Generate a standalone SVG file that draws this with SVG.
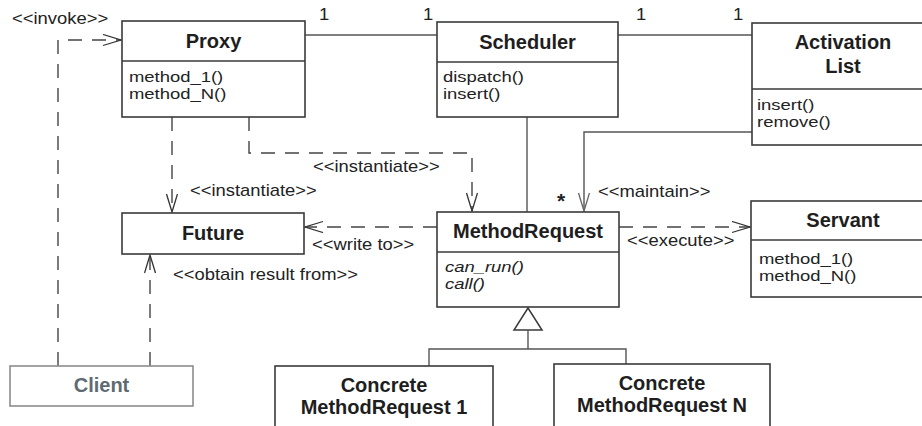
<svg xmlns="http://www.w3.org/2000/svg" width="922" height="426" viewBox="0 0 922 426">
  <defs>
    <marker id="open" markerUnits="userSpaceOnUse" markerWidth="22" markerHeight="14" refX="19" refY="6" orient="auto">
      <path d="M1,0.5 L19,6 L1,11.5" fill="none" stroke="#333" stroke-width="1.3" stroke-dasharray="none"/>
    </marker>
    <marker id="openGray" markerUnits="userSpaceOnUse" markerWidth="22" markerHeight="14" refX="19" refY="6" orient="auto">
      <path d="M1,0.5 L19,6 L1,11.5" fill="none" stroke="#666" stroke-width="1.3" stroke-dasharray="none"/>
    </marker>
  </defs>
  <style>
    .box { fill: #fff; stroke: #3a3a3a; stroke-width: 1.6; }
    .div { stroke: #3a3a3a; stroke-width: 1.6; }
    .title { font-family: "Liberation Sans", Arial, sans-serif; font-weight: bold; font-size: 20px; fill: #1e1e1e; text-anchor: middle; }
    .lbl { font-family: "Liberation Sans", Arial, sans-serif; font-size: 16px; fill: #222; }
    .op { font-family: "Liberation Sans", Arial, sans-serif; font-size: 15px; fill: #222; }
    .it { font-style: italic; }
    .solid { fill: none; stroke: #555; stroke-width: 1.4; }
    .dash { fill: none; stroke: #444; stroke-width: 1.4; stroke-dasharray: 14 10; }
  </style>
  <rect width="922" height="426" fill="#fff"/>

  <!-- connectors -->
  <g id="connectors">
    <!-- associations -->
    <line class="solid" x1="305" y1="35" x2="437" y2="35"/>
    <line class="solid" x1="618" y1="35" x2="752" y2="35"/>
    <line class="solid" x1="527" y1="117" x2="527" y2="212"/>
    <polyline class="solid" points="752,132 584,132 584,211" stroke="#888" marker-end="url(#openGray)"/>
    <!-- dependencies -->
    <polyline class="dash" points="58,366 58,40 121,40" marker-end="url(#open)"/>
    <polyline class="dash" points="172,117 172,212" marker-end="url(#open)"/>
    <polyline class="dash" points="249,117 249,153 472,153 472,211" marker-end="url(#open)"/>
    <polyline class="dash" points="437,227 305,227" marker-end="url(#open)"/>
    <polyline class="dash" points="619,227 750,227" marker-end="url(#open)"/>
    <polyline class="dash" points="150,366 150,255" marker-end="url(#open)"/>
    <!-- generalization -->
    <polygon points="528,308 514,330 542,330" fill="#fff" stroke="#3a3a3a" stroke-width="1.5"/>
    <polyline class="solid" points="528,330 528,349"/>
    <polyline class="solid" points="429,366 429,349 626,349 626,364"/>
    <!-- labels (slightly widened sans) -->
    <text class="lbl" transform="translate(12,24) scale(1.15,1)">&lt;&lt;invoke&gt;&gt;</text>
    <text class="lbl" transform="translate(319,20) scale(1.15,1)">1</text>
    <text class="lbl" transform="translate(423,20) scale(1.15,1)">1</text>
    <text class="lbl" transform="translate(636,20) scale(1.15,1)">1</text>
    <text class="lbl" transform="translate(733,20) scale(1.15,1)">1</text>
    <text class="lbl" transform="translate(313,172) scale(1.15,1)">&lt;&lt;instantiate&gt;&gt;</text>
    <text class="lbl" transform="translate(190,196) scale(1.15,1)">&lt;&lt;instantiate&gt;&gt;</text>
    <text class="lbl" transform="translate(598,197) scale(1.15,1)">&lt;&lt;maintain&gt;&gt;</text>
    <text class="lbl" x="557" y="208" style="font-size:21px;font-weight:bold">*</text>
    <text class="lbl" transform="translate(312,250) scale(1.15,1)">&lt;&lt;write to&gt;&gt;</text>
    <text class="lbl" transform="translate(627,246) scale(1.15,1)">&lt;&lt;execute&gt;&gt;</text>
    <text class="lbl" transform="translate(173,280) scale(1.15,1)">&lt;&lt;obtain result from&gt;&gt;</text>
  </g>

  <g id="proxy">
    <rect class="box" x="122" y="21" width="183" height="96"/>
    <line class="div" x1="122" y1="61" x2="305" y2="61"/>
    <text class="title" x="213.5" y="48">Proxy</text>
    <text class="op" transform="translate(129,82) scale(1.23,1)">method_1()</text>
    <text class="op" transform="translate(129,99) scale(1.23,1)">method_N()</text>
  </g>

  <g id="scheduler">
    <rect class="box" x="437" y="22" width="181" height="95"/>
    <line class="div" x1="437" y1="62" x2="618" y2="62"/>
    <text class="title" x="527.5" y="49">Scheduler</text>
    <text class="op" transform="translate(443,82) scale(1.23,1)">dispatch()</text>
    <text class="op" transform="translate(443,99) scale(1.23,1)">insert()</text>
  </g>

  <g id="activation-list">
    <rect class="box" x="752" y="23" width="182" height="122"/>
    <line class="div" x1="752" y1="89" x2="934" y2="89"/>
    <text class="title" x="843" y="49">Activation</text>
    <text class="title" x="843" y="73">List</text>
    <text class="op" transform="translate(757,110) scale(1.23,1)">insert()</text>
    <text class="op" transform="translate(757,127) scale(1.23,1)">remove()</text>
  </g>

  <g id="future">
    <rect class="box" x="122" y="213" width="182" height="41"/>
    <text class="title" x="213" y="240">Future</text>
  </g>

  <g id="method-request">
    <rect class="box" x="437" y="212" width="182" height="95"/>
    <line class="div" x1="437" y1="252" x2="619" y2="252"/>
    <text class="title" x="528" y="238">MethodRequest</text>
    <text class="op it" transform="translate(445,272) scale(1.23,1)">can_run()</text>
    <text class="op it" transform="translate(445,289) scale(1.23,1)">call()</text>
  </g>

  <g id="servant">
    <rect class="box" x="751" y="201" width="183" height="96"/>
    <line class="div" x1="751" y1="240" x2="934" y2="240"/>
    <text class="title" x="843" y="227">Servant</text>
    <text class="op" transform="translate(759,264) scale(1.23,1)">method_1()</text>
    <text class="op" transform="translate(759,281) scale(1.23,1)">method_N()</text>
  </g>

  <g id="client">
    <rect x="10" y="366" width="183" height="40" fill="#fff" stroke="#8c8c8c" stroke-width="1.6"/>
    <text class="title" x="101.5" y="392" style="fill:#5f6a73">Client</text>
  </g>

  <g id="concrete-1">
    <rect class="box" x="275" y="366" width="218" height="80"/>
    <text class="title" x="384" y="392">Concrete</text>
    <text class="title" x="384" y="414">MethodRequest 1</text>
  </g>

  <g id="concrete-n">
    <rect class="box" x="554" y="364" width="216" height="80"/>
    <text class="title" x="662" y="390">Concrete</text>
    <text class="title" x="662" y="412">MethodRequest N</text>
  </g>
</svg>
